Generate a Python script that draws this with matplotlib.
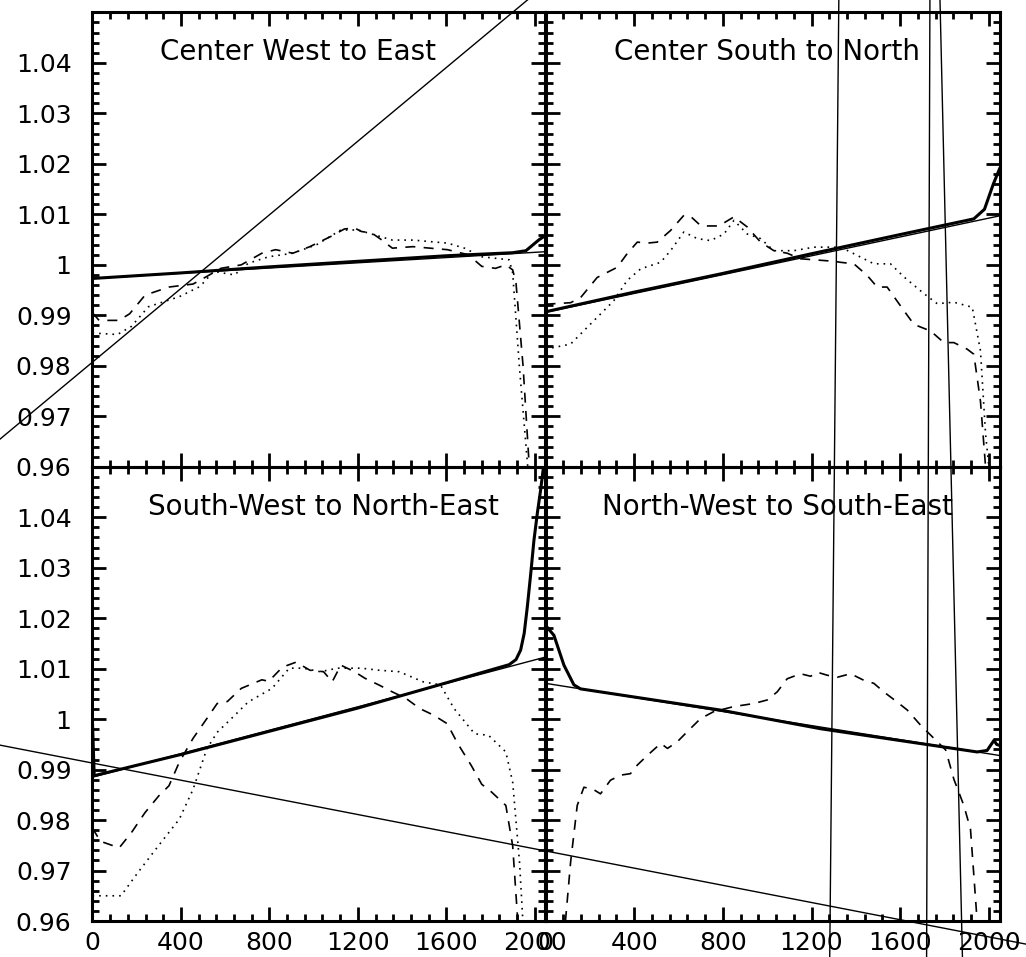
import matplotlib
matplotlib.use("Agg")
import matplotlib.pyplot as plt
from matplotlib.ticker import MultipleLocator

plt.rcParams["font.family"] = ["DejaVu Sans"]

# x extent of every profile (pixels along the cut)
X_MAX = 2048
Y_MIN, Y_MAX = 0.96, 1.05

titles = [
    "Center West to East",
    "Center South to North",
    "South-West to North-East",
    "North-West to South-East",
]

# panel 1 : Center West to East
cwe_thick_x = [0, 400, 800, 1200, 1600, 1900, 1960, 2020, 2048]
cwe_thick_y = [0.9973, 0.9984, 0.9996, 1.0007, 1.0018, 1.0024, 1.0028, 1.0050, 1.0058]
cwe_fit = [0.9973, 1.0026]
cwe_dash_x = [0, 30, 120, 168, 238, 346, 455, 517, 580, 673, 766, 828, 906, 983, 1077,
              1139, 1185, 1216, 1263, 1309, 1356, 1449, 1527, 1605, 1699, 1760, 1822,
              1869, 1900, 1915, 1947, 1975]
cwe_dash_y = [0.9905, 0.9890, 0.9890, 0.9903, 0.9940, 0.9956, 0.9962, 0.9977, 0.9993,
              1.0000, 1.0023, 1.0030, 1.0023, 1.0036, 1.0056, 1.0071, 1.0073, 1.0066,
              1.0063, 1.0049, 1.0033, 1.0036, 1.0033, 1.0030, 1.0020, 0.9997, 0.9993,
              1.0000, 0.9990, 0.9964, 0.9799, 0.9600]
cwe_dot_x = [0, 113, 176, 253, 393, 486, 548, 642, 704, 797, 906, 1014, 1123, 1200,
             1278, 1356, 1449, 1527, 1605, 1682, 1760, 1822, 1884, 1900, 1930, 1968]
cwe_dot_y = [0.9865, 0.9862, 0.9878, 0.9917, 0.9937, 0.9957, 0.9987, 0.9980, 1.0003,
             1.0016, 1.0023, 1.0040, 1.0069, 1.0069, 1.0059, 1.0049, 1.0049, 1.0046,
             1.0043, 1.0033, 1.0016, 1.0013, 1.0010, 0.9984, 0.9800, 0.9600]

# panel 2 : Center South to North
csn_thick_x = [0, 400, 789, 1200, 1600, 1932, 1980, 2020, 2048]
csn_thick_y = [0.9907, 0.9946, 0.9982, 1.0022, 1.0060, 1.0091, 1.0110, 1.0160, 1.0190]
csn_fit = [0.9906, 1.0097]
csn_dash_x = [0, 113, 158, 233, 323, 368, 414, 459, 504, 564, 624, 654, 699, 729, 782,
              850, 910, 970, 1030, 1090, 1150, 1241, 1301, 1331, 1391, 1451, 1496, 1541,
              1617, 1662, 1737, 1797, 1842, 1902, 1932, 1962, 1985]
csn_dash_y = [0.9922, 0.9925, 0.9935, 0.9975, 0.9995, 1.0022, 1.0045, 1.0043, 1.0045,
              1.0068, 1.0098, 1.0096, 1.0078, 1.0077, 1.0077, 1.0095, 1.0075, 1.0045,
              1.0028, 1.0023, 1.0012, 1.0009, 1.0007, 1.0005, 1.0002, 0.9979, 0.9956,
              0.9956, 0.9909, 0.9882, 0.9869, 0.9846, 0.9846, 0.9833, 0.9823, 0.9730,
              0.9600]
csn_dot_x = [0, 113, 158, 233, 308, 368, 429, 519, 564, 624, 684, 744, 805, 850, 910,
             970, 1030, 1120, 1211, 1331, 1391, 1481, 1556, 1617, 1707, 1767, 1842,
             1925, 1962, 1985, 2000]
csn_dot_y = [0.9833, 0.9843, 0.9863, 0.9896, 0.9929, 0.9969, 0.9992, 1.0005, 1.0028,
             1.0065, 1.0052, 1.0048, 1.0061, 1.0088, 1.0061, 1.0052, 1.0028, 1.0028,
             1.0035, 1.0035, 1.0022, 1.0002, 1.0002, 0.9976, 0.9943, 0.9923, 0.9926,
             0.9916, 0.9830, 0.9665, 0.9600]

# panel 3 : South-West to North-East
swne_thick_x = [0, 8, 400, 800, 1200, 1600, 1884, 1915, 1936, 1952, 1966, 1982, 1996,
                2012, 2026, 2044]
swne_thick_y = [0.9995, 0.9888, 0.9930, 0.9976, 1.0022, 1.0072, 1.0108, 1.0118, 1.0137,
                1.0170, 1.0222, 1.0290, 1.0354, 1.0410, 1.0453, 1.0517]
swne_fit = [0.9885, 1.0123]
swne_dash_x = [0, 36, 121, 176, 238, 300, 346, 393, 455, 517, 564, 610, 673, 766, 797,
               859, 921, 983, 1045, 1084, 1123, 1185, 1232, 1294, 1356, 1418, 1480,
               1542, 1604, 1651, 1713, 1760, 1806, 1869, 1900, 1923]
swne_dash_y = [0.9784, 0.9758, 0.9745, 0.9775, 0.9815, 0.9848, 0.9868, 0.9915, 0.9962,
               1.0001, 1.0031, 1.0035, 1.0061, 1.0078, 1.0075, 1.0103, 1.0113, 1.0097,
               1.0094, 1.0074, 1.0107, 1.0094, 1.0081, 1.0068, 1.0054, 1.0041, 1.0021,
               1.0008, 0.9991, 0.9952, 0.9908, 0.9871, 0.9855, 0.9829, 0.9749, 0.9600]
swne_dot_x = [0, 129, 207, 300, 393, 455, 517, 564, 642, 704, 812, 890, 953, 1030,
              1108, 1216, 1294, 1387, 1495, 1573, 1635, 1728, 1791, 1869, 1900, 1931,
              1946]
swne_dot_y = [0.9650, 0.9650, 0.9697, 0.9750, 0.9802, 0.9861, 0.9941, 0.9974, 1.0007,
              1.0034, 1.0061, 1.0101, 1.0101, 1.0094, 1.0101, 1.0101, 1.0097, 1.0094,
              1.0074, 1.0068, 1.0021, 0.9971, 0.9968, 0.9935, 0.9875, 0.9716, 0.9600]

# panel 4 : North-West to South-East
nwse_thick_x = [0, 38, 83, 128, 158, 789, 1241, 1947, 1992, 2023, 2035, 2048]
nwse_thick_y = [1.0186, 1.0166, 1.0107, 1.0068, 1.0060, 1.0018, 0.9981, 0.9935, 0.9938,
                0.9958, 0.9950, 0.9948]
nwse_fit = [1.0071, 0.9928]
nwse_dash_x = [90, 113, 143, 173, 211, 248, 293, 338, 383, 414, 459, 520, 550, 594, 639,
               699, 759, 850, 940, 1000, 1045, 1090, 1150, 1196, 1226, 1271, 1316, 1376,
               1436, 1481, 1526, 1586, 1632, 1692, 1752, 1805, 1842, 1887, 1917, 1947]
nwse_dash_y = [0.9600, 0.9716, 0.9829, 0.9865, 0.9862, 0.9852, 0.9879, 0.9889, 0.9892,
               0.9909, 0.9928, 0.9952, 0.9942, 0.9955, 0.9975, 1.0001, 1.0015, 1.0025,
               1.0031, 1.0038, 1.0054, 1.0080, 1.0090, 1.0085, 1.0093, 1.0087, 1.0083,
               1.0090, 1.0077, 1.0071, 1.0054, 1.0034, 1.0018, 0.9988, 0.9962, 0.9939,
               0.9881, 0.9829, 0.9782, 0.9600]

# stray unclipped fit lines: (x0, y0, x1, y1) in the owning panel's data units
cwe_stray = (-700, 0.9552, 2300, 1.0646)
swne_stray = (-700, 0.99725, 4400, 0.95390)
nwse_strays = [
    (1281.4, 0.95, 1323.6, 1.145),
    (1718.8, 0.95, 1734.2, 1.145),
    (1882.2, 0.95, 1778.1, 1.145),
]

panels = [
    (cwe_thick_x, cwe_thick_y, cwe_fit, cwe_dash_x, cwe_dash_y, cwe_dot_x, cwe_dot_y),
    (csn_thick_x, csn_thick_y, csn_fit, csn_dash_x, csn_dash_y, csn_dot_x, csn_dot_y),
    (swne_thick_x, swne_thick_y, swne_fit, swne_dash_x, swne_dash_y, swne_dot_x, swne_dot_y),
    (nwse_thick_x, nwse_thick_y, nwse_fit, nwse_dash_x, nwse_dash_y, None, None),
]

y_ticks = [0.96, 0.97, 0.98, 0.99, 1.00, 1.01, 1.02, 1.03, 1.04]
y_labels = ["0.96", "0.97", "0.98", "0.99", "1", "1.01", "1.02", "1.03", "1.04"]
x_ticks = [0, 400, 800, 1200, 1600, 2000]
x_labels = ["0", "400", "800", "1200", "1600", "2000"]

title_x = [0.454, 0.487, 0.509, 0.511]

fig = plt.figure(figsize=(10.26, 9.57), dpi=100)
positions = [
    [0.0901, 0.5122, 0.4415, 0.4749],
    [0.5317, 0.5122, 0.4425, 0.4749],
    [0.0901, 0.0376, 0.4415, 0.4746],
    [0.5317, 0.0376, 0.4425, 0.4746],
]

axes = []
for i, (pos, data) in enumerate(zip(positions, panels)):
    ax = fig.add_axes(pos)
    ax.patch.set_visible(False)
    axes.append(ax)
    tx, ty, fit, dx, dy, px, py = data
    ax.plot(tx, ty, color="black", lw=2.2, solid_joinstyle="round")
    ax.plot([0, X_MAX], fit, color="black", lw=1.0)
    ax.plot(dx, dy, color="black", lw=1.2, linestyle=(0, (6, 5)))
    if px is not None:
        ax.plot(px, py, color="black", lw=1.2, linestyle=(0, (1, 3)))

    ax.set_xlim(0, X_MAX)
    ax.set_ylim(Y_MIN, Y_MAX)
    ax.xaxis.set_minor_locator(MultipleLocator(80))
    ax.yaxis.set_minor_locator(MultipleLocator(0.002))
    ax.set_xticks(x_ticks)
    ax.set_yticks(y_ticks)
    ax.tick_params(which="both", direction="in", top=True, right=True, width=2.0,
                   labelsize=18, colors="black")
    ax.tick_params(which="major", length=10)
    ax.tick_params(which="minor", length=5)
    ax.tick_params(axis="x", pad=7)
    ax.tick_params(axis="y", pad=15)
    if i in (0, 2):
        ax.set_yticklabels(y_labels)
    else:
        ax.set_yticklabels([])
    if i in (2, 3):
        ax.set_xticklabels(x_labels)
    else:
        ax.set_xticklabels([])
    for spine in ax.spines.values():
        spine.set_linewidth(2.2)
    ax.text(title_x[i], 0.912, titles[i], transform=ax.transAxes, ha="center",
            va="center", fontsize=20)

x0, y0, x1, y1 = cwe_stray
axes[0].plot([x0, x1], [y0, y1], color="black", lw=1.0, clip_on=False)
x0, y0, x1, y1 = swne_stray
axes[2].plot([x0, x1], [y0, y1], color="black", lw=1.0, clip_on=False)
for x0, y0, x1, y1 in nwse_strays:
    axes[3].plot([x0, x1], [y0, y1], color="black", lw=1.0, clip_on=False)

fig.savefig("out.png", dpi=100, facecolor="white")
